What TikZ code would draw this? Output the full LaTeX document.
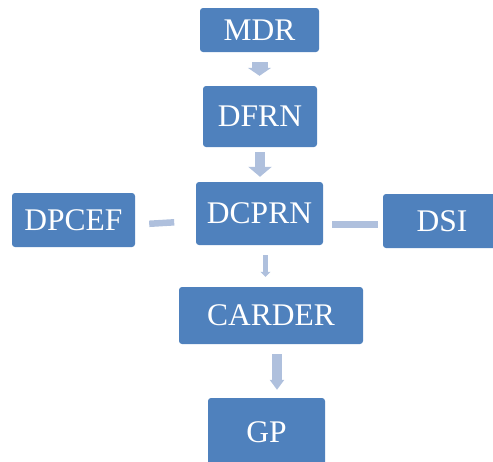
\documentclass[tikz,border=0pt]{standalone}
\usepackage{fontspec}
\setmainfont{Liberation Serif}
\usetikzlibrary{arrows.meta,calc}
\definecolor{boxblue}{HTML}{4F81BD}
\definecolor{arrblue}{HTML}{AFC0DD}
\tikzset{
  blk/.style={fill=boxblue, rounded corners=3pt, text=white, inner sep=0pt,
    font=\fontsize{31.5}{36}\selectfont, align=center},
  barr/.style={draw=arrblue, line cap=butt},
  link/.style={draw=arrblue, line cap=butt}
}
\begin{document}
\begin{tikzpicture}[x=1pt,y=-1pt]
\useasboundingbox (0,0) rectangle (493,461);
\clip (0,0) rectangle (493,461);
\node[blk, minimum width=119pt, minimum height=44pt] (m) at (259.5,30) {MDR};
\node[blk, minimum width=114pt, minimum height=61pt] (f) at (260,116.5) {DFRN};
\node[blk, minimum width=127pt, minimum height=63pt] (c) at (259.5,213.5) {DCPRN};
\node[blk, minimum width=123pt, minimum height=54pt] (p) at (73.5,220) {DPCEF};
\node[blk, minimum width=118pt, minimum height=54pt] (s) at (442,221) {DSI};
\node[blk, minimum width=184pt, minimum height=57pt] (r) at (271,315.5) {CARDER};
\node[blk, minimum width=117pt, minimum height=68pt] (g) at (266.5,432) {GP};
% arrows
\draw[barr, line width=16pt, -{Triangle[width=23pt,length=8pt,fill=arrblue]}, shorten <=10pt, shorten >=10pt]
  (m.south) -- (m.south |- f.north);
\draw[barr, line width=10pt, -{Triangle[width=23pt,length=10pt,fill=arrblue]}, shorten <=5pt, shorten >=5pt]
  (f.south) -- (f.south |- c.north);
\draw[barr, line width=5.6pt, -{Triangle[width=10pt,length=5pt,fill=arrblue]}, shorten <=10pt, shorten >=10pt]
  ([xshift=6pt]c.south) -- ([xshift=6pt]c.south |- r.north);
\draw[barr, line width=9.4pt, -{Triangle[width=14pt,length=10pt,fill=arrblue]}, shorten <=10pt, shorten >=8pt]
  ([xshift=6pt]r.south) -- ([xshift=6pt]r.south |- g.north);
% side links
\draw[link, line width=6.5pt] (p.east) ++(14,3.8) -- ++(25,-1.5);
\draw[link, line width=7pt] (c.east) ++(9,11) -- ++(46,0);
\end{tikzpicture}
\end{document}
